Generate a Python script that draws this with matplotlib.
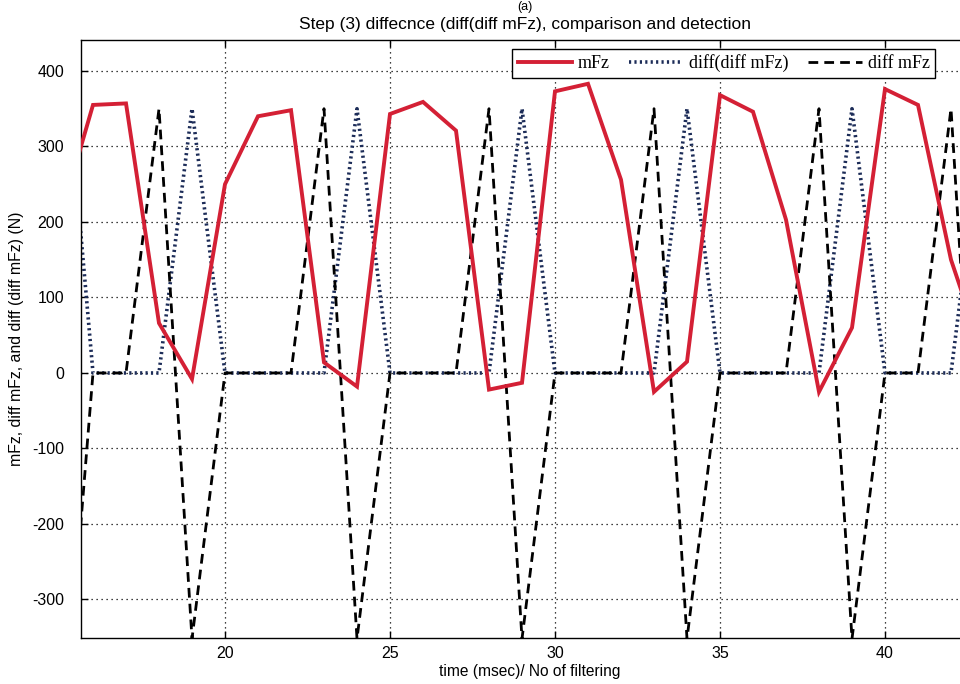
import matplotlib
matplotlib.use("Agg")
import matplotlib.pyplot as plt

# ---- data ----
t = [15, 16, 17, 18, 19, 20, 21, 22, 23, 24, 25, 26, 27, 28, 29, 30, 31, 32, 33, 34,
     35, 36, 37, 38, 39, 40, 41, 42, 43]
mFz = [204, 355, 357, 66, -8, 250, 340, 348, 14, -18, 343, 359, 321, -22, -13, 373, 383,
       256, -25, 15, 368, 346, 203, -25, 60, 376, 355, 150, 20]
diff_mFz = [-540, 0, 0, 350, -352, 0, 0, 0, 350, -352, 0, 0, 0, 350, -352, 0, 0, 0, 350,
            -352, 0, 0, 0, 350, -352, 0, 0, 350, -352]
diff_diff_mFz = [500, 0, 0, 0, 350, 0, 0, 0, 0, 350, 0, 0, 0, 0, 350, 0, 0, 0, 0, 350,
                 0, 0, 0, 0, 350, 0, 0, 0, 350]

xticks = [20, 25, 30, 35, 40]
yticks = [-300, -200, -100, 0, 100, 200, 300, 400]

title = "Step (3) diffecnce (diff(diff mFz), comparison and detection"
xlabel = "time (msec)/ No of filtering"
ylabel = "mFz, diff mFz, and diff (diff mFz) (N)"

plt.rcParams['font.family'] = ['Liberation Sans', 'DejaVu Sans']
plt.rcParams['axes.unicode_minus'] = False

fig = plt.figure(figsize=(9.6, 6.84), dpi=100)
W, H = 960, 684
left_px, right_px, top_px, bottom_px = 80.7, 979, 40, 638
ax = fig.add_axes([left_px / W, 1 - bottom_px / H, (right_px - left_px) / W,
                   (bottom_px - top_px) / H])

# x mapping: 20 -> 225 px, 33 px per unit
x0 = 20 - (225 - left_px) / 33.0
x1 = 20 + (right_px - 225) / 33.0
ax.set_xlim(x0, x1)
ax.set_ylim(-351, 441)

l1, = ax.plot(t, mFz, color='#d42035', lw=2.8, solid_joinstyle='miter', zorder=3,
              label='mFz')
l2, = ax.plot(t, diff_diff_mFz, color='#1c2c58', lw=2.6, linestyle=(0, (0.6, 0.9)),
              zorder=2, label='diff(diff mFz)')
l3, = ax.plot(t, diff_mFz, color='black', lw=2.0, linestyle=(0, (3.5, 2.2)), zorder=2,
              label='diff mFz')

ax.set_xticks(xticks)
ax.set_yticks(yticks)
ax.grid(True, color='black', linestyle=(0, (1, 3)), linewidth=0.9)
ax.tick_params(direction='in', top=True, right=True, labelsize=11.5, length=5, width=1)
ax.tick_params(axis='y', pad=12)
ax.tick_params(axis='x', pad=6)
for s in ax.spines.values():
    s.set_linewidth(1.0)

ax.set_xlabel(xlabel, fontsize=11.2, labelpad=2)
ax.set_ylabel(ylabel, fontsize=11.4, labelpad=6)
fig.text(525 / W, 1 - 25 / H, title, ha='center', va='center', fontsize=12.5)
fig.text(525 / W, 0.999, "(a)", ha='center', va='top', fontsize=9)

leg = ax.legend(handles=[l1, l2, l3], ncol=3, loc='upper right',
                bbox_to_anchor=(935 / W, 1 - 49 / H), bbox_transform=fig.transFigure,
                prop={'family': 'Liberation Serif', 'size': 13}, frameon=True,
                fancybox=False, edgecolor='black', framealpha=1, borderpad=0.3,
                handlelength=3.0, handletextpad=0.3, columnspacing=1.1,
                borderaxespad=0)
leg.get_frame().set_linewidth(1.0)

fig.savefig("out.png", dpi=100)
